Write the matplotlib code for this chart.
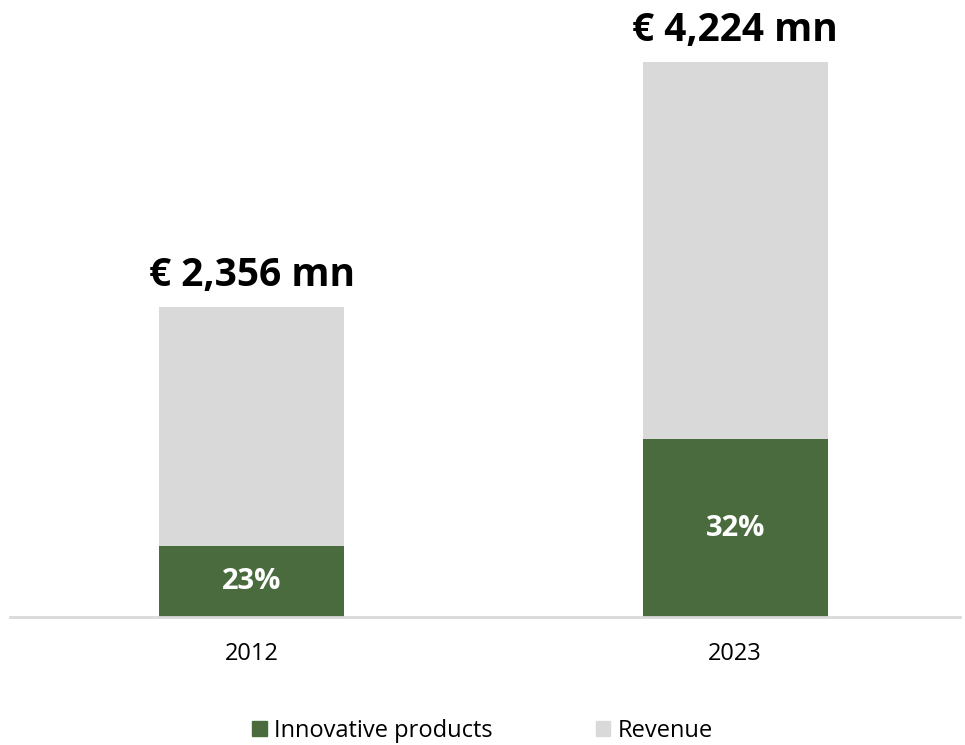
import os
import numpy as np
import matplotlib.pyplot as plt
from matplotlib.patches import Patch
from matplotlib.font_manager import FontProperties

plt.rcParams['font.family'] = ['Open Sans', 'DejaVu Sans']

years = ['2012', '2023']
revenue = [2356, 4224]            # EUR mn
innovative_share = [23, 32]       # % of revenue
total_labels = ['€ 2,356 mn', '€ 4,224 mn']

green = '#4a6b3e'
grey = '#d9d9d9'

# the static bold file, so the condensed cut is not picked
bold_path = '/usr/share/fonts/truetype/open-sans/OpenSans-Bold.ttf'
if os.path.exists(bold_path):
    bold = lambda size: FontProperties(fname=bold_path, size=size)
else:
    bold = lambda size: FontProperties(family='Open Sans', weight='bold',
                                       stretch='normal', size=size)

fig = plt.figure(figsize=(9.65, 7.45), dpi=100)
ax = fig.add_axes([10 / 965, 1 - 617 / 745, 950 / 965, 617 / 745])

x = np.arange(len(years))
width = 0.383
revenue = np.array(revenue, dtype=float)
innov = revenue * np.array(innovative_share) / 100

ax.bar(x, innov, width, color=green, zorder=2)
ax.bar(x, revenue - innov, width, bottom=innov, color=grey, zorder=2)

for i in range(len(years)):
    ax.annotate(total_labels[i], (x[i], revenue[i]), xytext=(0, 9),
                textcoords='offset points', ha='center', va='bottom',
                fontproperties=bold(28), color='black')
    ax.text(x[i], innov[i] / 2, f'{innovative_share[i]}%', ha='center',
            va='center', fontproperties=bold(21), color='white')

ax.set_xlim(-0.4995, 1.465)
ax.set_ylim(0, 4224 * 617 / 555)
ax.set_xticks(x)
ax.set_xticklabels(years, fontsize=17)
ax.tick_params(axis='x', length=0, pad=18)
ax.set_yticks([])
for side in ['top', 'left', 'right']:
    ax.spines[side].set_visible(False)
ax.spines['bottom'].set_color(grey)
ax.spines['bottom'].set_linewidth(2)

handles = [Patch(color=green, label='Innovative products'),
           Patch(color=grey, label='Revenue')]
fig.legend(handles=handles, loc='center', bbox_to_anchor=(0.5, 1 - 731 / 745),
           ncol=2, frameon=False, fontsize=17, handlelength=0.6,
           handleheight=0.6, handletextpad=0.3, columnspacing=4.4)

fig.savefig('out.png', dpi=100)
